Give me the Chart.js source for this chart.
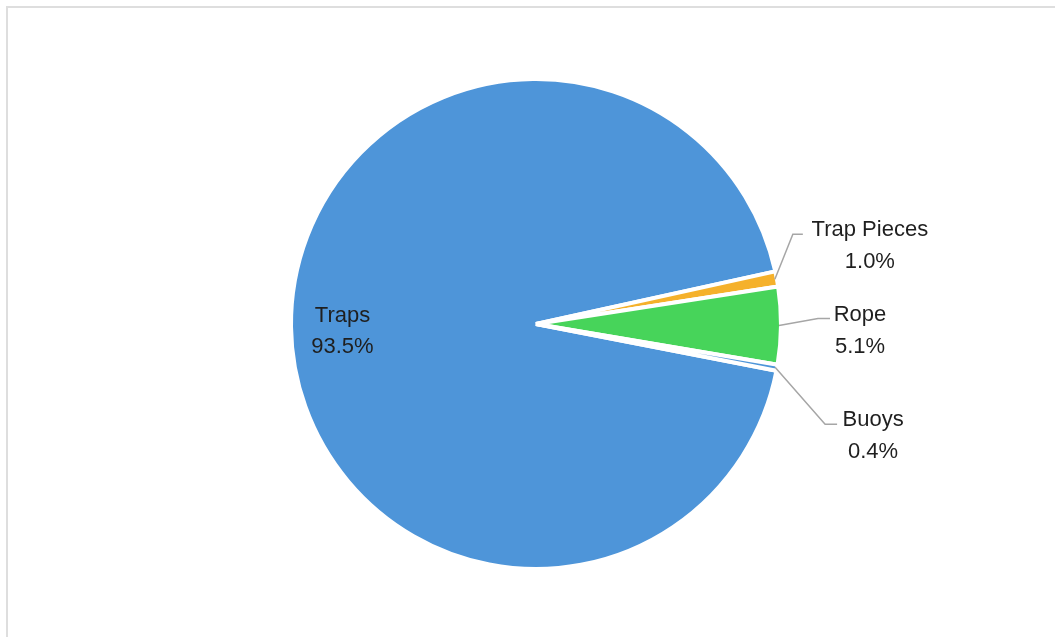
<!DOCTYPE html>
<html>
<head>
<meta charset="utf-8">
<script src="https://cdn.jsdelivr.net/npm/chart.js@4"></script>
<style>
  html, body { margin: 0; padding: 0; background: #fff; }
  #wrap { position: relative; width: 1055px; height: 637px; overflow: hidden; }
  #frame { position: absolute; left: 6px; top: 6px; right: -10px; bottom: -10px; border: 2px solid #dedede; }
  canvas { position: absolute; left: 0; top: 0; }
</style>
</head>
<body>
<div id="wrap">
  <div id="frame"></div>
  <canvas id="myChart" width="1055" height="637"></canvas>
</div>
<script>
// share of debris by type (%)
var labels = ["Traps", "Trap Pieces", "Rope", "Buoys"];
var values = [93.5, 1.0, 5.1, 0.4];
var colors = ["#4E95D9", "#F5B12B", "#47D45A", "#4E95D9"];

// where each label goes, relative to the slice's outer edge point
// [elbowDx, elbowDy, endDx, endDy, textDx, baselineDy]  (null = inside, no leader)
var labelSpots = [
    null,
    [18, -45, 28, -45, 95, -43],
    [39, -7, 51, -7, 81, -5],
    [50, 57, 62, 57, 98, 59]
];

var labelPlugin = {
    id: 'pieLabels',
    afterDatasetsDraw: function(chart) {
        var ctx = chart.ctx;
        var meta = chart.getDatasetMeta(0);
        ctx.save();
        ctx.font = '22px "Liberation Sans", Arial, sans-serif';
        ctx.fillStyle = '#1f1f1f';
        ctx.textAlign = 'center';
        ctx.textBaseline = 'alphabetic';
        for (i = 0; i < meta.data.length; i++) {
            var arc = meta.data[i];
            var p = arc.getProps(['x', 'y', 'startAngle', 'endAngle', 'outerRadius'], true);
            var mid = (p.startAngle + p.endAngle) / 2;
            var pct = values[i].toFixed(1) + '%';
            var spot = labelSpots[i];
            if (!spot) {
                var r = p.outerRadius * 0.79;
                var tx = p.x + Math.cos(mid) * r;
                var ty = p.y + Math.sin(mid) * r;
                ctx.fillText(labels[i], tx, ty - 4);
                ctx.fillText(pct, tx, ty + 27);
                continue;
            }
            var ax = p.x + Math.cos(mid) * (p.outerRadius - 2);
            var ay = p.y + Math.sin(mid) * (p.outerRadius - 2);
            ctx.strokeStyle = '#a6a6a6';
            ctx.lineWidth = 1.5;
            ctx.beginPath();
            ctx.moveTo(ax, ay);
            ctx.lineTo(ax + spot[0], ay + spot[1]);
            ctx.lineTo(ax + spot[2], ay + spot[3]);
            ctx.stroke();
            ctx.fillText(labels[i], ax + spot[4], ay + spot[5]);
            ctx.fillText(pct, ax + spot[4], ay + spot[5] + 32);
        }
        ctx.restore();
    }
};

new Chart(document.getElementById("myChart"), {
    type: 'pie',
    data: {
        labels: labels,
        datasets: [
            {
                data: values,
                backgroundColor: colors,
                borderColor: '#ffffff',
                borderWidth: 4,
                hoverOffset: 0
            }
        ]
    },
    options: {
        responsive: false,
        animation: false,
        events: [],
        rotation: 101,
        radius: 245,
        layout: { padding: { left: 17, right: 0, top: 79, bottom: 68 } },
        plugins: {
            legend: { display: false },
            tooltip: { enabled: false }
        }
    },
    plugins: [labelPlugin]
});
</script>
</body>
</html>
